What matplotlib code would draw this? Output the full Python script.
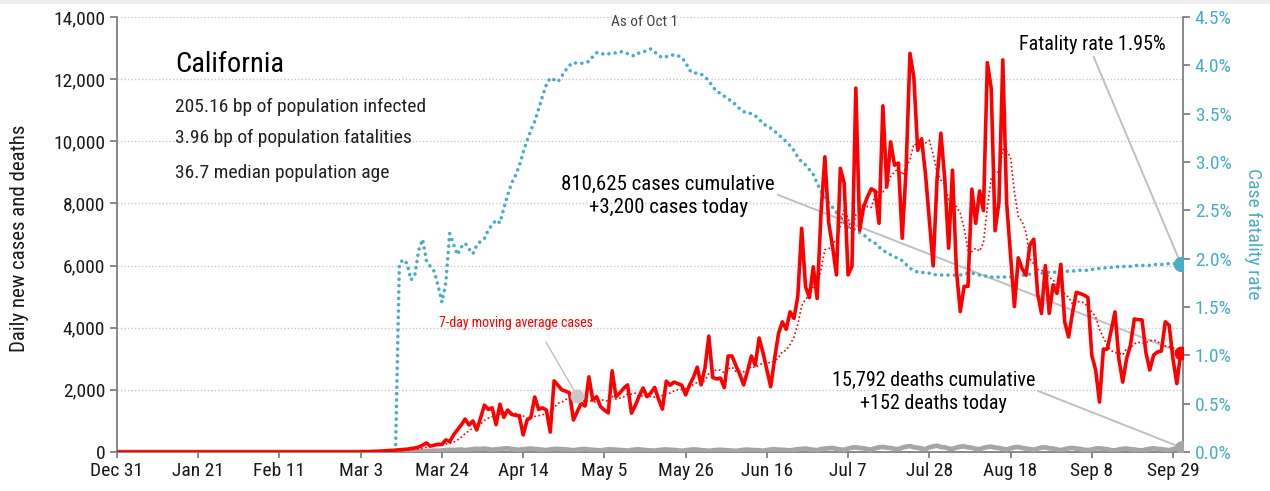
import pandas as pd
import matplotlib
matplotlib.use("Agg")
import matplotlib.pyplot as plt
import matplotlib.dates as mdates
from matplotlib.patches import Rectangle

plt.rcParams['font.family'] = ['Roboto Condensed', 'Archivo Narrow', 'DejaVu Sans']

# daily new cases, Dec 31 2019 .. Oct 1 2020
cases = [0] * 60 + [
    0, 0, 0, 5, 10, 5, 15, 20, 25, 35, 45, 50, 60, 70, 80, 90, 110, 130,
    160, 220, 290, 190, 220, 250, 240, 390, 330, 550,
    710, 870, 1060, 870, 1000, 710, 1100, 1510, 1370, 1420,
    880, 1540, 1120, 1350, 1210, 1180, 1170, 550, 1020, 1120,
    1770, 1370, 1420, 1350, 640, 2290, 2150, 2000, 1960,
    1900, 1030, 1300, 1570, 1480, 2420, 1670, 1780, 1460, 1350,
    1260, 2610, 1780, 1900, 2050, 2160, 1250, 1500, 1800, 2060,
    1780, 1900, 2080, 1700, 1380, 2280, 2150, 2250, 2200, 2150,
    1840, 2150, 2400, 2730, 2160, 2700, 3730, 2400, 2350, 2380,
    2070, 3090, 3090, 2780, 2500, 2160, 2600, 3090, 2800, 3670,
    3200, 2650,
    2100, 3000, 3800, 4190, 3950, 4510, 4300, 5000, 7200, 5320,
    4970, 5960, 4940, 7680, 9500, 7370, 6600, 5700, 9130, 8650,
    5700, 5980, 11710, 7140, 7880, 8210, 8470, 8400, 7360, 11140,
    8530, 9980, 9230, 9300, 6880, 9100, 12830, 12060, 9710, 10080,
    8960, 7460, 5990, 8770, 10260, 8770, 6560, 9070, 5860, 4520,
    5330, 5330, 8460, 7360, 8400, 7770, 12530, 11710, 7120, 8040,
    12620, 8000,
    6360, 4680, 6250, 5900, 5690, 6660, 6850, 5100, 4460, 6000,
    4460, 5380, 5100, 6040, 4190, 3700, 4460, 5140, 5100, 5050,
    4970, 3120, 2640, 1610, 3310, 3310, 3900, 4510, 3000, 2250,
    3000, 3440, 4280, 4260, 4250, 3200, 2640, 3120, 3220, 3250,
    4190, 4080, 2990, 2200, 3200,
]

# daily new deaths
deaths = [0] * 63 + [
    0, 1, 1, 2, 2, 3, 4,
    5, 6, 8, 10, 12, 15, 20,
    25, 22, 30, 35, 40, 45, 38,
    50, 60, 70, 65, 72, 80, 60,
    75, 90, 100, 95, 110, 90, 70,
    85, 100, 110, 120, 95, 80, 70,
    90, 100, 110, 95, 85, 70, 60,
    80, 95, 100, 90, 85, 70, 55,
    75, 90, 95, 80, 70, 60, 50,
    70, 85, 80, 75, 65, 55, 45,
    65, 80, 85, 70, 60, 50, 45,
    60, 75, 80, 70, 65, 50, 40,
    55, 70, 80, 75, 60, 50, 40,
    50, 65, 70, 60, 55, 45, 35,
    50, 70, 75, 65, 60, 55, 40,
    60, 80, 85, 75, 70, 60, 50,
    70, 90, 95, 110, 85, 70, 60,
    90, 110, 120, 130, 100, 80, 70,
    110, 140, 150, 130, 120, 90, 80,
    120, 150, 160, 140, 130, 100, 90,
    140, 170, 190, 150, 140, 110, 90,
    150, 180, 200, 160, 150, 110, 100,
    140, 170, 180, 150, 140, 100, 90,
    130, 160, 170, 140, 130, 100, 80,
    120, 150, 160, 130, 110, 90, 70,
    110, 140, 150, 120, 110, 80, 60,
    90, 120, 130, 110, 100, 70, 60,
    80, 110, 120, 100, 90, 60, 50,
    80, 100, 110, 90, 80, 60, 50,
    80, 100, 120, 100, 90, 70, 60,
    90, 120, 152,
]

# case fatality rate, %
cfr = [0.0] * 73 + [
    1.95, 1.99, 1.95, 1.78, 1.83, 2.09, 2.20, 1.98, 1.92, 1.87,
    1.72, 1.55, 1.75, 2.26, 2.15, 2.04, 2.12, 2.16, 2.10, 2.05,
    2.14, 2.18, 2.21, 2.30, 2.35, 2.40, 2.37, 2.52, 2.66, 2.78,
    2.86, 2.96, 3.10, 3.22, 3.33, 3.42, 3.55, 3.68, 3.80, 3.87,
    3.85, 3.83, 3.89, 3.95, 4.00, 4.03, 4.02, 4.02, 4.03, 4.04,
    4.09, 4.13, 4.13, 4.11, 4.12, 4.12, 4.13, 4.14, 4.14, 4.12,
    4.10, 4.10, 4.13, 4.14, 4.15, 4.17, 4.14, 4.10, 4.08, 4.09,
    4.10, 4.11, 4.10, 4.08, 4.03, 3.95, 3.92, 3.92, 3.91, 3.88,
    3.84, 3.78, 3.73, 3.71, 3.68, 3.65, 3.63, 3.59, 3.55, 3.52,
    3.51, 3.50, 3.48, 3.44, 3.40, 3.37, 3.35, 3.32, 3.28, 3.25,
    3.21, 3.17, 3.12, 3.05, 3.00, 2.97, 2.92, 2.87, 2.78, 2.70,
    2.63, 2.58, 2.53, 2.48, 2.43, 2.37, 2.33, 2.31, 2.30, 2.27,
    2.25, 2.21, 2.18, 2.16, 2.12, 2.09, 2.06, 2.04, 2.02, 2.00,
    1.98, 1.94, 1.90, 1.88, 1.86, 1.86, 1.85, 1.85, 1.84, 1.83,
    1.83, 1.83, 1.83, 1.83, 1.83, 1.83, 1.84, 1.85, 1.85, 1.84,
    1.83, 1.82, 1.82, 1.81, 1.81, 1.81, 1.81, 1.81, 1.81, 1.82,
    1.82, 1.83, 1.83, 1.84, 1.84, 1.85, 1.85, 1.85, 1.86, 1.86,
    1.86, 1.86, 1.87, 1.87, 1.87, 1.88, 1.88, 1.88, 1.88, 1.89,
    1.89, 1.90, 1.90, 1.91, 1.91, 1.91, 1.92, 1.92, 1.92, 1.92,
    1.93, 1.93, 1.93, 1.93, 1.93, 1.94, 1.94, 1.94, 1.94, 1.95,
    1.95, 1.95, 1.95,
]

state = "California"
info_lines = ["205.16 bp of population infected",
              "3.96 bp of population fatalities",
              "36.7 median population age"]
cases_note = "810,625 cases cumulative\n+3,200 cases today"
deaths_note = "15,792 deaths cumulative\n+152 deaths today"
cfr_note = "Fatality rate 1.95%"

dates = pd.date_range("2019-12-31", periods=len(cases), freq="D")
ma7 = pd.Series(cases).rolling(7, min_periods=1).mean()

RED = "#ff0000"
TEAL = "#4bacc6"
GRAY = "#a6a6a6"
LINEGRAY = "#c0c0c0"
AXGRAY = "#808080"

fig = plt.figure(figsize=(12.7, 4.91), dpi=100)
fig.add_artist(Rectangle((0, 1 - 4 / 491), 1, 4 / 491, transform=fig.transFigure,
                         color="#eeeeee", lw=0))
ax = fig.add_axes([117 / 1270, 39 / 491, 1066 / 1270, 435 / 491])
ax2 = ax.twinx()
ax.set_zorder(ax2.get_zorder() + 1)
ax.patch.set_visible(False)

# all lines on the left axes so the red sits over the teal
ax.plot(dates, cfr, color=TEAL, lw=2.6, linestyle=(0, (0.01, 1.75)),
        dash_capstyle="round", transform=ax2.transData, zorder=3)
ax.plot(dates, deaths, color=GRAY, lw=3.4, zorder=3)
ax.plot(dates, ma7, color=RED, lw=1.2, linestyle=(0, (1, 1.5)), zorder=4)
ax.plot(dates, cases, color=RED, lw=2.6, zorder=5)

ax.plot(dates[-1], cases[-1], "o", color=RED, ms=9, zorder=6)
ax.plot(dates[-1], deaths[-1], "o", color=GRAY, ms=8, zorder=6)
ax.plot(mdates.date2num(dates[-1]), cfr[-1], "o", color=TEAL, ms=10,
        transform=ax2.transData, zorder=6)
ax.plot(dates[119], ma7[119], "o", color="#c8c8c8", ms=9, zorder=6)

ax.set_xlim(dates[0], dates[-1] + pd.Timedelta(hours=14))
ax.set_ylim(0, 14000)
ax2.set_ylim(0, 4.5)

ax.set_yticks(range(0, 14001, 2000))
ax.set_yticklabels([f"{v:,}" for v in range(0, 14001, 2000)])
ax.set_xticks(pd.date_range("2019-12-31", periods=14, freq="21D"))
ax.xaxis.set_major_formatter(mdates.DateFormatter("%b %-d"))
pcts = [i * 0.5 for i in range(10)]
ax2.set_yticks(pcts)
ax2.set_yticklabels([f"{p:.1f}%" for p in pcts])

ax.yaxis.grid(True, color="#c8c8c8", lw=1.0, linestyle=(0, (1, 1.5)))
ax.set_axisbelow(True)

for s in ["top", "right"]:
    ax.spines[s].set_visible(False)
for s in ["top", "left", "bottom"]:
    ax2.spines[s].set_visible(False)
for sp in [ax.spines["left"], ax.spines["bottom"], ax2.spines["right"]]:
    sp.set_color(AXGRAY)
    sp.set_linewidth(1.3)

ax.tick_params(axis="both", colors=AXGRAY, length=5, width=1.3, labelsize=14,
               labelcolor="#1a1a1a")
ax.tick_params(axis="x", length=4.5, pad=3)
ax2.tick_params(axis="y", colors=AXGRAY, length=5, width=1.3, labelsize=14,
                labelcolor=TEAL)

fig.text(20 / 1270, 0.515, "Daily new cases and deaths", rotation=90,
         ha="center", va="center", fontsize=15, color="#1a1a1a")
fig.text(1253 / 1270, 0.524, "Case fatality rate", rotation=270,
         ha="center", va="center", fontsize=14, color=TEAL)

# header block
ax.text(0.0544, 0.874, state, transform=ax.transAxes, fontsize=20.5,
        va="baseline", ha="left")
for i, line in enumerate(info_lines):
    ax.text(0.0544, [0.782, 0.710, 0.630][i], line, transform=ax.transAxes,
            fontsize=14, va="baseline", ha="left", color="#222222")
ax.text(0.495, 0.989, "As of Oct 1", transform=ax.transAxes, fontsize=11,
        ha="center", va="center", color="#444444")

arrow = dict(arrowstyle="-", color=LINEGRAY, lw=1.4, shrinkA=0, shrinkB=4)
ax.annotate(cases_note, xy=(dates[-1], cases[-1]), xytext=(0.517, 0.589),
            textcoords="axes fraction", ha="center", va="center", fontsize=15,
            linespacing=1.25, zorder=2, arrowprops=dict(arrow, relpos=(1, 0.55)))
ax.annotate(deaths_note, xy=(dates[-1], deaths[-1]), xytext=(0.766, 0.138),
            textcoords="axes fraction", ha="center", va="center", fontsize=14.5,
            linespacing=1.25, zorder=2, arrowprops=dict(arrow, relpos=(1, 0.55)))
ax.annotate(cfr_note, xy=(mdates.date2num(dates[-1]), cfr[-1]),
            xycoords=ax2.transData, xytext=(0.915, 0.937),
            textcoords="axes fraction", ha="center", va="center", fontsize=14.5,
            zorder=2, arrowprops=dict(arrow, relpos=(0.5, 0)))
ax.annotate("7-day moving average cases", xy=(dates[119], ma7[119]),
            xytext=(0.374, 0.297), textcoords="axes fraction", ha="center",
            va="center", fontsize=10, color=RED, zorder=2,
            arrowprops=dict(arrow, lw=1.0, relpos=(0.65, 0), shrinkA=8))

fig.savefig("out.png", dpi=100)
